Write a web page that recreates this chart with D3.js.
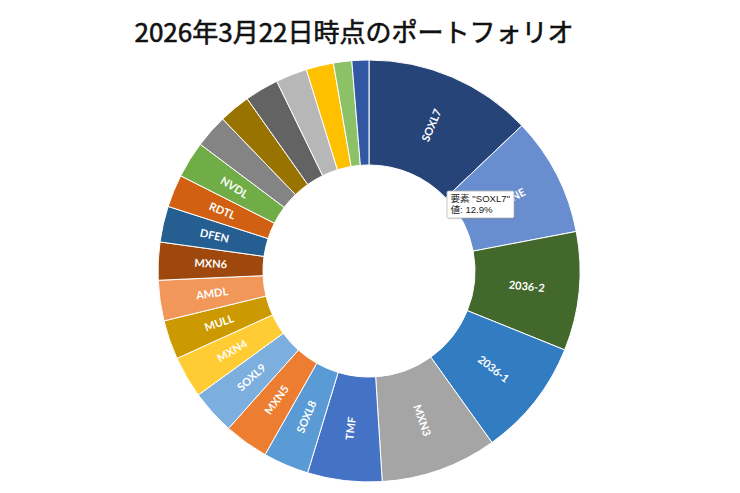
<!DOCTYPE html>
<html>
<head>
<meta charset="utf-8">
<script src="https://cdn.jsdelivr.net/npm/d3@7"></script>
<style>
  body { margin: 0; background: #fff; }
  svg { display: block; }
</style>
</head>
<body>
<div id="chart"></div>
<script>
// Holdings as of the title date, clockwise from 12 o'clock
const names = [
  'SOXL7', 'MXNE', '2036-2', '2036-1', 'MXN3', 'TMF', 'SOXL8', 'MXN5',
  'SOXL9', 'MXN4', 'MULL', 'AMDL', 'MXN6', 'DFEN', 'RDTL', 'NVDL',
  'その他1', 'その他2', 'その他3', 'その他4', 'その他5', 'その他6', 'その他7'
];
const shares = [
  12.9, 9.1, 9.1, 9.0, 8.9, 5.7, 3.5, 3.4,
  3.4, 3.2, 3.0, 3.1, 2.9, 2.75, 2.5, 2.8,
  2.55, 2.4, 2.6, 2.4, 2.1, 1.4, 1.3
];
// Excel point colours, same order
const colors = [
  '#264478', '#698ED0', '#43682B', '#327DC2', '#A5A5A5', '#4472C4', '#5B9BD5', '#ED7D31',
  '#7CAFDD', '#FFCD33', '#CC9A00', '#F1975A', '#9E480E', '#255E91', '#D26012', '#70AD47',
  '#848484', '#997300', '#636363', '#B7B7B7', '#FFC000', '#8CC168', '#3358A3'
];
// slices too thin for a label in the original
const unlabeled = ['その他1', 'その他2', 'その他3', 'その他4', 'その他5', 'その他6', 'その他7'];

const tooltipLines = ['要素 "SOXL7"', '値: 12.9%'];

const W = 740, H = 493;
const cx = 369, cy = 271;
const outerR = 211, innerR = 106;

const rows = names.map((name, i) => ({ name, share: shares[i], color: colors[i] }));

const svg = d3.select('#chart').append('svg')
  .attr('width', W)
  .attr('height', H);

// regular weight with a thin outline, to get the medium look of the original
svg.append('text')
  .attr('x', 354)
  .attr('y', 42)
  .attr('text-anchor', 'middle')
  .style('font-family', '"Noto Sans CJK JP", "Noto Sans", sans-serif')
  .style('font-size', '26px')
  .style('font-weight', '400')
  .style('fill', '#111')
  .style('stroke', '#111')
  .style('stroke-width', '0.6px')
  .text('2026年3月22日時点のポートフォリオ');

const pie = d3.pie()
  .sort(null)
  .value(d => d.share);

const arc = d3.arc()
  .innerRadius(innerR)
  .outerRadius(outerR);

const arcs = pie(rows);

const g = svg.append('g')
  .attr('transform', `translate(${cx},${cy})`);

g.selectAll('path.slice')
  .data(arcs)
  .enter()
  .append('path')
  .attr('class', 'slice')
  .attr('d', arc)
  .attr('fill', d => d.data.color)
  .attr('stroke', '#fff')
  .attr('stroke-width', 1);

// radial labels, reading outward on the right half and inward on the left
g.selectAll('text.slice-label')
  .data(arcs.filter(d => !unlabeled.includes(d.data.name)))
  .enter()
  .append('text')
  .attr('class', 'slice-label')
  .attr('transform', d => {
    const [x, y] = arc.centroid(d);
    const deg = (d.startAngle + d.endAngle) / 2 * 180 / Math.PI;
    const rot = deg < 180 ? deg - 90 : deg - 270;
    return `translate(${x},${y}) rotate(${rot})`;
  })
  .attr('text-anchor', 'middle')
  .attr('dy', '0.36em')
  .style('font-family', 'Lato, "Open Sans", sans-serif')
  .style('font-weight', '700')
  .style('font-size', '11px')
  .style('fill', '#fff')
  .text(d => d.data.name);

// hover tooltip captured in the screenshot (it sits over the 2nd slice's label)
const tip = svg.append('g')
  .attr('transform', 'translate(447,191)');

tip.append('rect')
  .attr('x', 0.8)
  .attr('y', 1.2)
  .attr('width', 67)
  .attr('height', 27)
  .attr('rx', 1.5)
  .attr('fill', '#000')
  .attr('opacity', 0.12);

tip.append('rect')
  .attr('width', 67)
  .attr('height', 27)
  .attr('rx', 1.5)
  .attr('fill', '#fff')
  .attr('stroke', '#b5b5b5')
  .attr('stroke-width', 0.8);

tip.selectAll('text')
  .data(tooltipLines)
  .enter()
  .append('text')
  .attr('x', 3.5)
  .attr('y', (d, i) => 11 + i * 10.6)
  .style('font-family', '"Liberation Sans", "Noto Sans CJK JP", sans-serif')
  .style('font-size', '9.6px')
  .style('fill', '#222')
  .text(d => d);
</script>
</body>
</html>
